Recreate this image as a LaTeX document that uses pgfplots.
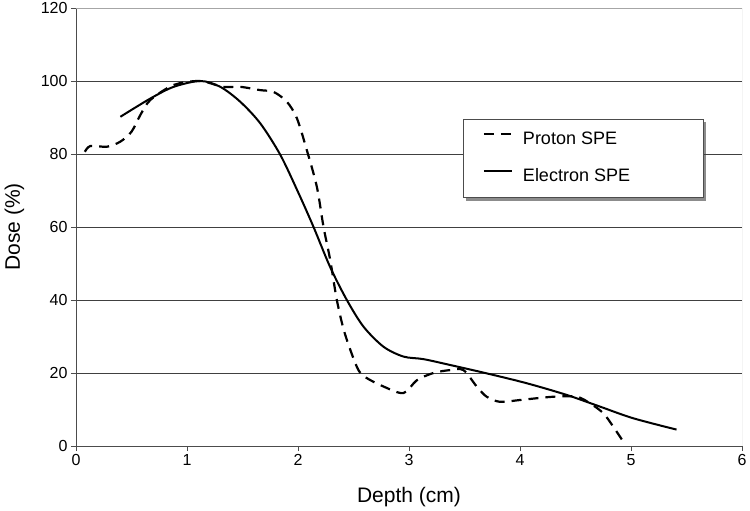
\documentclass[border=0pt]{standalone}
\usepackage{pgfplots}
\pgfplotsset{compat=1.18}
\usepackage{fontspec}
\setmainfont{Liberation Sans}
\usetikzlibrary{backgrounds}

\begin{document}
\begin{tikzpicture}
\begin{axis}[
  scale only axis,
  width=666pt, height=438pt,
  xmin=0, xmax=6, ymin=0, ymax=120,
  xtick={0,1,...,6}, ytick={0,20,...,120},
  axis x line*=bottom, axis y line*=left,
  axis line style={draw=black!70, line width=0.8pt},
  tick align=outside, major tick length=5pt,
  tick style={draw=black!70, line width=0.8pt},
  ymajorgrids, grid style={draw=black!75, line width=0.8pt},
  /pgf/number format/assume math mode=true,
  tick label style={font=\fontsize{16}{19}\selectfont},
  label style={font=\fontsize{21}{25}\selectfont},
  xlabel={Depth (cm)}, ylabel={Dose (\%)},
  xlabel style={at={(axis description cs:0.5,-0.130)}, anchor=base},
  ylabel style={at={(axis description cs:-0.0841,0.5)}, anchor=base},
  legend style={at={(axis cs:3.49,89.6)}, anchor=north west, name=leg,
    draw=black!70, line width=0.8pt, fill=white,
    font=\fontsize{18}{21}\selectfont,
    inner xsep=19pt, inner ysep=12.5pt, row sep=19.5pt, column sep=10pt,
    nodes={inner sep=0pt, text height=13pt, text depth=4pt}},
  legend cell align=left,
  legend image code/.code={\draw[#1] (0pt,6pt) -- (28pt,6pt);},
]
\addplot[black, line width=2.2pt, dash pattern=on 10pt off 7pt, smooth, tension=0.5] coordinates {
 (0.08,80.6) (0.13,82.2) (0.28,82) (0.40,83.4) (0.50,86.1) (0.58,90.7)
 (0.67,94.8) (0.88,98.9) (1.12,100) (1.32,98.4) (1.48,98.4) (1.66,97.5)
 (1.78,97) (1.90,94.3) (1.99,89.8) (2.08,81) (2.17,71) (2.23,60)
 (2.29,51) (2.35,40) (2.42,31) (2.53,21.7) (2.60,19) (2.77,16.3)
 (2.95,14.5) (3.07,18) (3.22,20) (3.37,20.8) (3.49,20.8) (3.61,16.3)
 (3.70,13.5) (3.82,12.1) (4.0,12.6) (4.30,13.5) (4.51,13.5) (4.63,11.7)
 (4.75,9) (4.84,5.3) (4.95,0.3)
};
\addlegendentry{\fontsize{18}{21}\selectfont\makebox[161pt][l]{Proton SPE}}
\addplot[black, line width=2pt, smooth, tension=0.5] coordinates {
 (0.40,90.2) (0.67,95.2) (0.88,98.4) (1.12,100) (1.30,98.4) (1.48,94.3)
 (1.66,88.4) (1.84,79.8) (2.00,69.6) (2.14,60) (2.29,49) (2.44,40)
 (2.59,32.7) (2.77,27.2) (2.95,24.5) (3.13,23.8) (3.37,22.2) (3.70,19.9)
 (4.06,17.2) (4.42,14) (4.72,10.8) (5.02,7.6) (5.41,4.5)
};
\addlegendentry{\fontsize{18}{21}\selectfont\makebox[161pt][l]{Electron SPE}}
\draw[black!35, line width=0.8pt] (axis cs:0,120) -- (axis cs:6,120) -- (axis cs:6,0);
\end{axis}
\begin{scope}[on background layer]
\fill[black!45] ([shift={(3pt,-3pt)}]leg.south west) rectangle ([shift={(3pt,-3pt)}]leg.north east);
\end{scope}
\pgfresetboundingbox
\useasboundingbox ([shift={(-76pt,-64pt)}]current axis.south west) rectangle ([shift={(8pt,8pt)}]current axis.north east);
\end{tikzpicture}
\end{document}
